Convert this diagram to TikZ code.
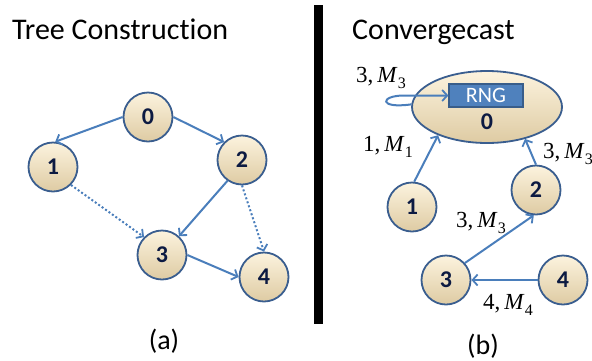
\documentclass[tikz,border=0pt]{standalone}
\usepackage{fontspec}
\setmainfont{Carlito}[RawFeature=-liga]
\newfontfamily\lblfont{Liberation Serif}
\usetikzlibrary{arrows.meta,shapes.geometric}
\definecolor{edgeblue}{RGB}{74,126,187}
\definecolor{ringblue}{RGB}{58,94,143}
\definecolor{creamtop}{RGB}{252,243,222}
\definecolor{creambot}{RGB}{222,203,163}
\definecolor{digitnavy}{RGB}{12,26,66}
\definecolor{rngfill}{RGB}{79,129,189}
\definecolor{rngline}{RGB}{56,93,138}
% message label: "k, M_k"
\newcommand\msglbl[2]{{\lblfont\fontsize{23}{23}\selectfont #1,\,\textit{M}\kern0.3pt\raisebox{-0.28em}{\fontsize{16}{16}\selectfont #2}}}
\tikzset{
  proc/.style={circle, minimum size=49pt, inner sep=0pt, draw=ringblue, line width=1.8pt,
    top color=creamtop, bottom color=creambot, text=digitnavy,
    font=\fontsize{24}{24}\selectfont\bfseries},
  arr/.style={draw=edgeblue, line width=2pt, -{Straight Barb[length=5pt,width=11pt,line width=1.8pt]}},
  dotarr/.style={arr, dash pattern=on 2pt off 2.2pt},
  title/.style={anchor=base west, font=\fontsize{30}{30}\selectfont, inner sep=0pt},
  caption/.style={font=\fontsize{28}{28}\selectfont, inner sep=0pt},
}
\begin{document}
\begin{tikzpicture}[x=1pt,y=-1pt]
\useasboundingbox (0,0) rectangle (592,360);

% ---------- (a) tree construction ----------
\node[title] (ta) at (12,39) {Tree Construction};
\node[proc] (a0) at (148,117) {0};
\node[proc] (a1) at (53,167) {1};
\node[proc] (a2) at (242,160) {2};
\node[proc] (a3) at (162,255) {3};
\node[proc] (a4) at (264,277) {4};
\draw[arr] (a0.west) -- (a1.85);
\draw[arr] (a0.east) -- (a2.135);
\draw[arr] (a2.235) -- (a3.48);
\draw[arr] (a3.east) -- (a4.west);
\draw[dotarr] (a1.-45) -- (a3.135);
\draw[dotarr] (a2.south) -- (a4.north);
\node[caption] (ca) at (164,341) {(a)};

% ---------- divider ----------
\fill[black] (314,5) rectangle (323,324);

% ---------- (b) convergecast ----------
\node[title] (tb) at (352,39) {Convergecast};
\node[ellipse, minimum width=150pt, minimum height=72pt, inner sep=0pt, draw=ringblue,
  line width=1.8pt, top color=creamtop, bottom color=creambot] (b0) at (487,107) {};
\node[rectangle, fill=rngfill, draw=rngline, line width=1.2pt, minimum width=74pt,
  minimum height=23pt, inner sep=0pt, text=white, font=\fontsize{22}{22}\selectfont] (rng) at (486,95.5) {RNG};
\node[text=digitnavy, font=\fontsize{24}{24}\selectfont\bfseries, inner sep=0pt] (b0lbl) at (487,122) {0};
\node[proc] (b1) at (412,207) {1};
\node[proc] (b2) at (536,190) {2};
\node[proc] (b3) at (446,280) {3};
\node[proc] (b4) at (563,280) {4};

\draw[arr] (b0.178) .. controls (378,109) and (380,95.5) .. (404,95.5) -- (rng.west);
\draw[arr] (b1.85) -- (b0.210);
\draw[arr] (b2.north) -- (b0.320);
\draw[arr] (b3.42) -- (b2.265);
\draw[arr] (b4.west) -- (b3.east);

\node (l00) at (381,78) {\msglbl{3}{3}};
\node (l10) at (388,147) {\msglbl{1}{1}};
\node (l20) at (568,154) {\msglbl{3}{3}};
\node (l32) at (481,223) {\msglbl{3}{3}};
\node (l43) at (508,305) {\msglbl{4}{4}};

\node[caption] (cb) at (483,346) {(b)};
\end{tikzpicture}
\end{document}
